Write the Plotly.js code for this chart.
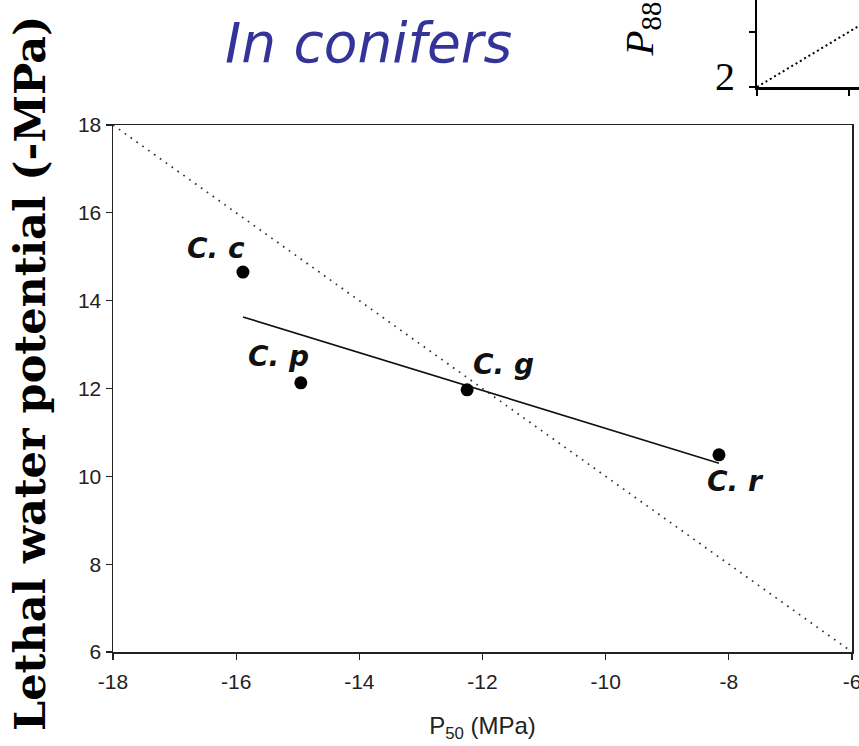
<!DOCTYPE html>
<html>
<head>
<meta charset="utf-8">
<script src="https://cdn.plot.ly/plotly-3.0.1.min.js"></script>
<style>html,body{margin:0;padding:0;background:#fff;}#chart{width:859px;height:746px;}</style>
</head>
<body>
<div id="chart"></div>
<script>
// ---- data ----
const species = ['C. c', 'C. p', 'C. g', 'C. r'];
const p50 = [-15.89, -14.95, -12.25, -8.16];
const lethal = [14.65, 12.13, 11.97, 10.49];
const fitX = [-15.89, -8.16];
const fitY = [13.63, 10.30];
const oneToOneX = [-18, -6];
const oneToOneY = [18, 6];
const xTicks = [-18, -16, -14, -12, -10, -8, -6];
const xTickText = ['-18', '-16', '-14', '-12', '-10', '-8', '-6'];
const yTicks = [6, 8, 10, 12, 14, 16, 18];
const yTickText = ['6', '8', '10', '12', '14', '16', '18'];
// inset fragment (top right)
const insetLineX = [2, 6];
const insetLineY = [2, 6];
const insetYTicks = [2, 4];
const insetYTickText = ['2', ''];
const insetXTicks = [2, 4];
const insetXTickText = ['', ''];

const W = 859, H = 746;
const px = v => v / W;
const py = v => 1 - v / H;

const labelOffsets = [[-27, 24], [-22, 26], [36, 25], [17, -27]];

const traces = [
  {x: oneToOneX, y: oneToOneY, mode: 'lines', line: {color: '#333', width: 1.7, dash: '1.7px,5.5px'}, hoverinfo: 'skip'},
  {x: fitX, y: fitY, mode: 'lines', line: {color: '#111', width: 1.6}},
  {x: p50, y: lethal, mode: 'markers', marker: {color: '#000', size: 13}},
  {x: insetLineX, y: insetLineY, xaxis: 'x2', yaxis: 'y2', mode: 'lines', line: {color: '#000', width: 2, dash: '2px,3px'}}
];

const annotations = species.map((s, i) => ({
  x: p50[i], y: lethal[i], xref: 'x', yref: 'y', text: '<b><i>' + s + '</i></b>',
  showarrow: false, xshift: labelOffsets[i][0], yshift: labelOffsets[i][1],
  font: {family: 'DejaVu Sans, Verdana, sans-serif', size: 28, color: '#111'}
}));
annotations.push({
  x: px(368), y: py(43), xref: 'paper', yref: 'paper', text: '<i>In conifers</i>', showarrow: false,
  xanchor: 'center', yanchor: 'middle',
  font: {family: 'DejaVu Sans, Verdana, sans-serif', size: 55, color: '#333399'}
});
annotations.push({
  x: px(30), y: py(374), xref: 'paper', yref: 'paper', text: '<b>Lethal water potential (-MPa)</b>', showarrow: false,
  textangle: -90, xanchor: 'center', yanchor: 'middle',
  font: {family: 'DejaVu Serif, serif', size: 43, color: '#000'}
});
annotations.push({
  x: px(642), y: py(59), xref: 'paper', yref: 'paper', text: '<i>P</i><sub>88</sub> (-MPa)', showarrow: false,
  textangle: -90, xanchor: 'center', yanchor: 'bottom',
  font: {family: 'Liberation Serif, Times New Roman, serif', size: 41, color: '#000'}
});

const tickFont = {family: 'Liberation Sans, Arial, sans-serif', size: 21, color: '#222'};

const layout = {
  width: W, height: H,
  margin: {l: 0, r: 0, t: 0, b: 0},
  paper_bgcolor: '#fff', plot_bgcolor: 'rgba(0,0,0,0)',
  showlegend: false,
  xaxis: {
    domain: [px(113), px(852)], range: [-18, -6], tickvals: xTicks, ticktext: xTickText,
    showgrid: false, zeroline: false, showline: true, mirror: true, linecolor: '#222', linewidth: 1.5,
    ticks: 'outside', ticklen: 6, tickwidth: 1.3, tickcolor: '#222', ticklabeloverflow: 'allow',
    tickfont: tickFont, ticklabelstandoff: 4,
    title: {text: 'P<sub>50</sub> (MPa)', standoff: 25, font: {family: 'Liberation Sans, Arial, sans-serif', size: 24, color: '#222'}},
    automargin: false
  },
  yaxis: {
    domain: [py(652), py(125)], range: [6, 18], tickvals: yTicks, ticktext: yTickText,
    showgrid: false, zeroline: false, showline: true, mirror: true, linecolor: '#222', linewidth: 1.5,
    ticks: 'outside', ticklen: 6, tickwidth: 1.3, tickcolor: '#222',
    tickfont: tickFont,
    automargin: false
  },
  xaxis2: {
    domain: [px(757), 1], range: [2, 4.22], anchor: 'y2', tickvals: insetXTicks, ticktext: insetXTickText,
    showgrid: false, zeroline: false, showline: true, linecolor: '#000', linewidth: 2.5,
    ticks: 'outside', ticklen: 6, tickwidth: 1.5, tickcolor: '#000', automargin: false
  },
  yaxis2: {
    domain: [py(87), 1], range: [2, 5.16], anchor: 'x2', tickvals: insetYTicks, ticktext: insetYTickText,
    showgrid: false, zeroline: false, showline: true, linecolor: '#000', linewidth: 2,
    ticks: 'outside', ticklen: 6, tickwidth: 1.5, tickcolor: '#000',
    ticklabelshift: -11, ticklabelstandoff: 6,
    tickfont: {family: 'Liberation Serif, Times New Roman, serif', size: 40, color: '#000'},
    automargin: false
  },
  annotations: annotations
};

Plotly.newPlot('chart', traces, layout, {displayModeBar: false, staticPlot: true});
</script>
</body>
</html>
